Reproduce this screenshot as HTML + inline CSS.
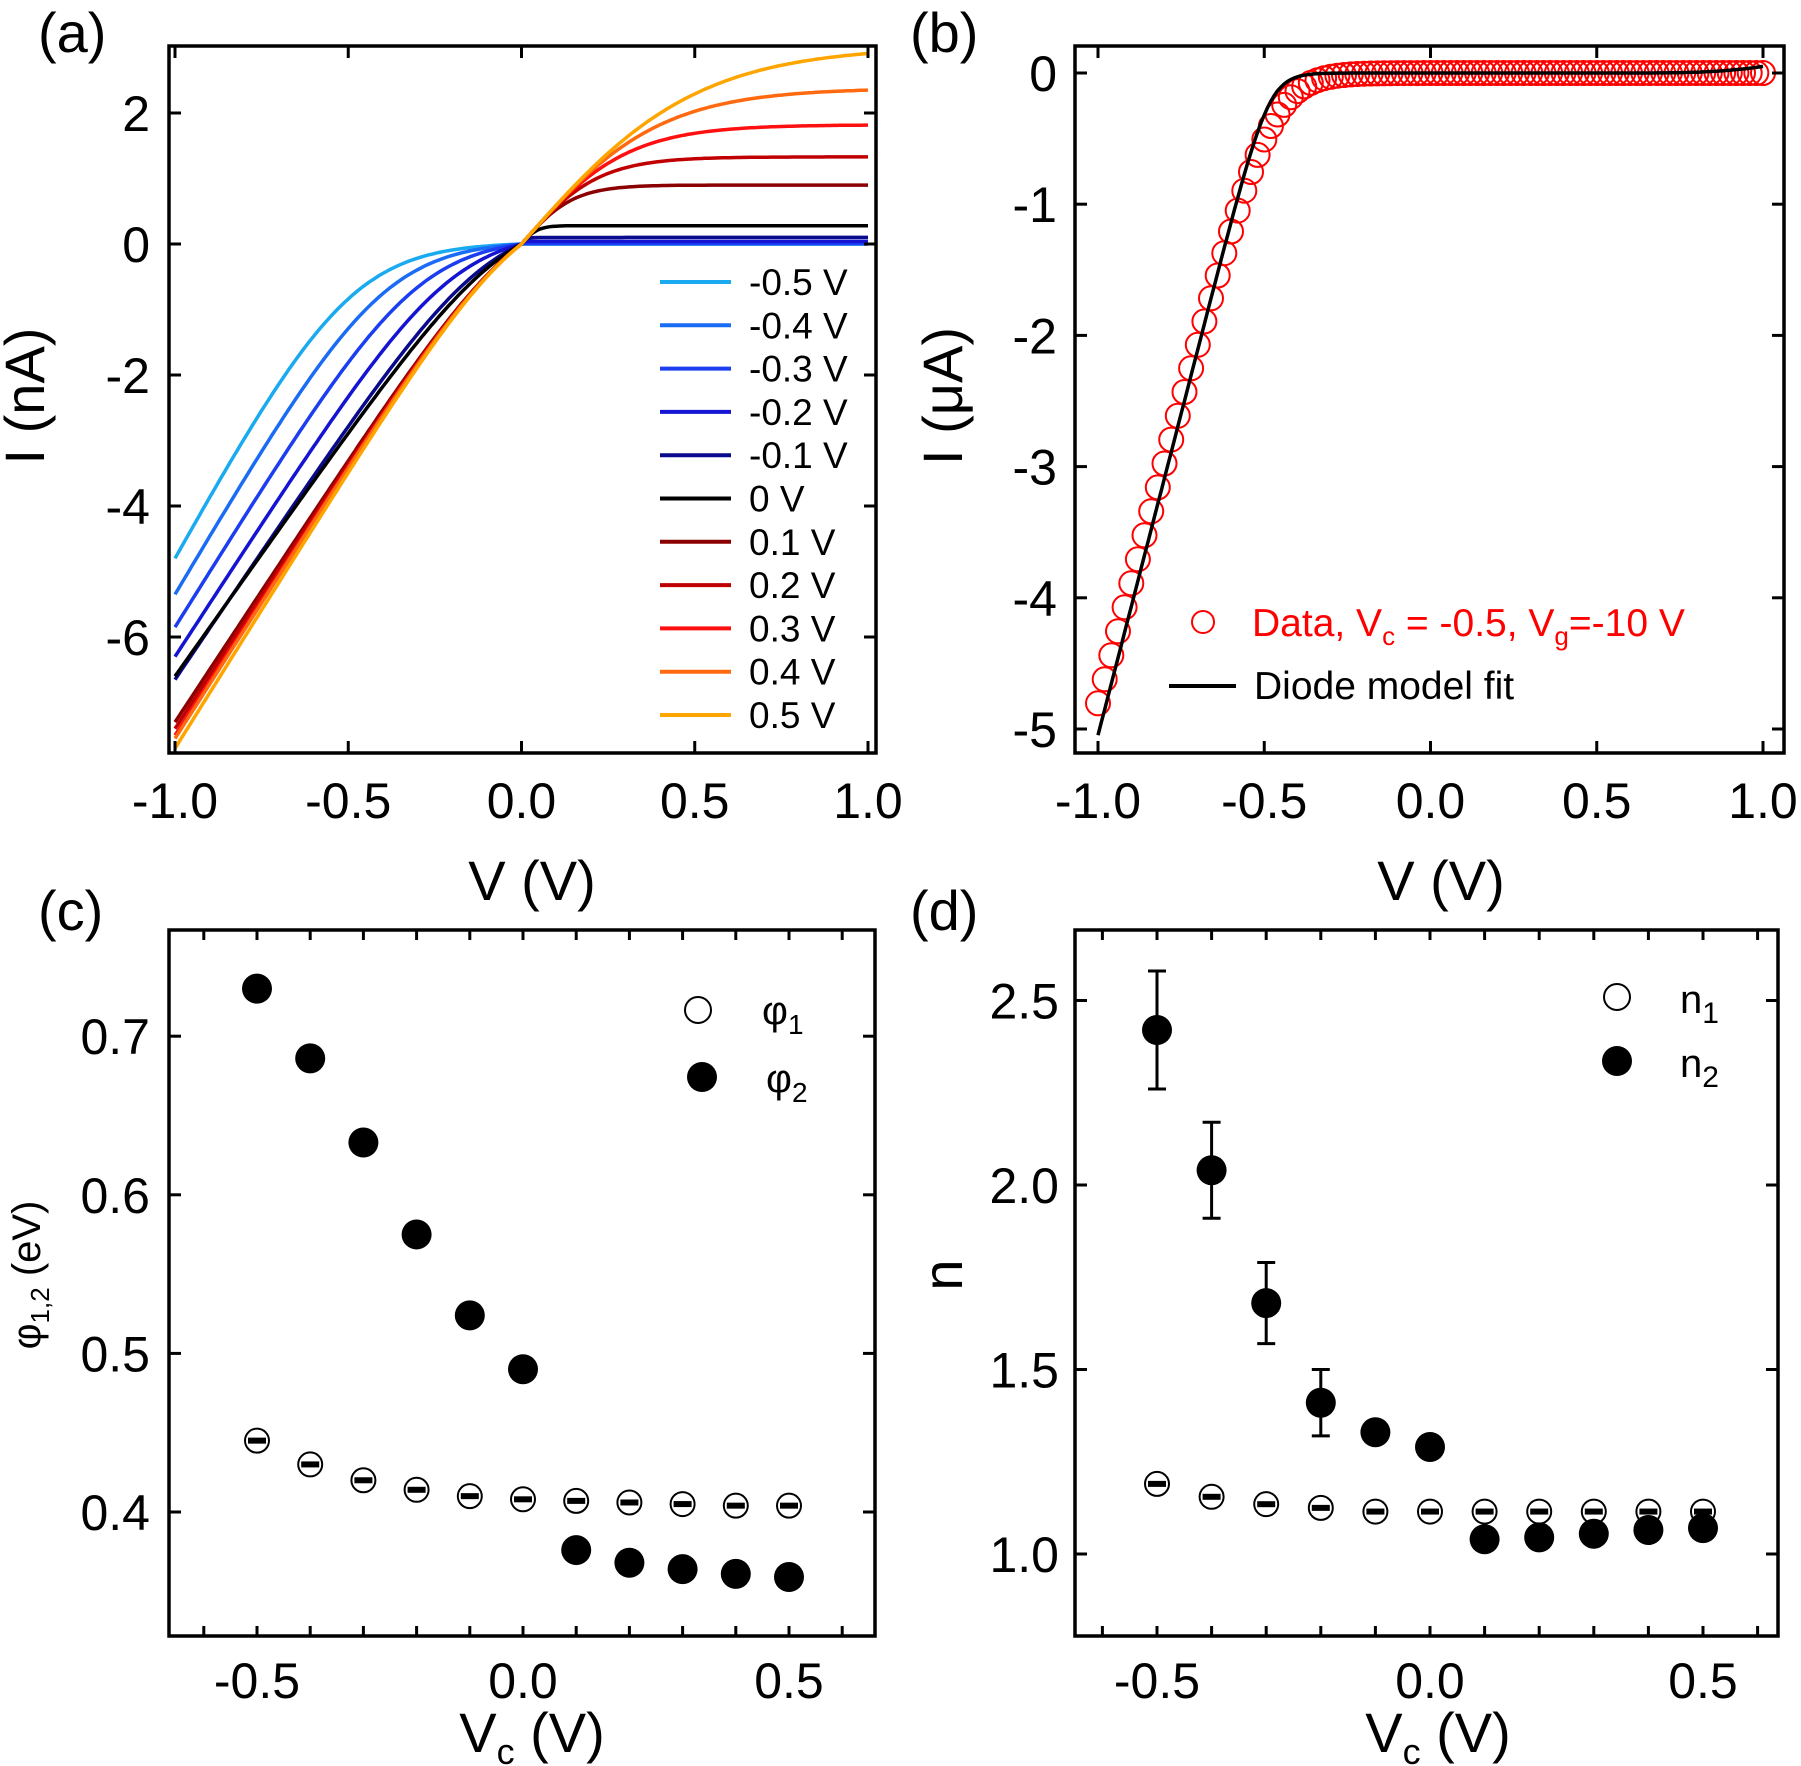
<!DOCTYPE html>
<html><head><meta charset="utf-8"><style>
html,body{margin:0;padding:0;background:#fff}
svg{display:block;font-family:"Liberation Sans",Arial,sans-serif}
</style></head><body>
<svg id="s" width="1801" height="1766" viewBox="0 0 1801 1766" xmlns="http://www.w3.org/2000/svg"></svg>
<script>
const S=document.getElementById('s');let h='';
function fr(l,t,r,b){h+=`<rect x="${l}" y="${t}" width="${r-l}" height="${b-t}" fill="none" stroke="#000" stroke-width="3.5"/>`;}
function tx(x,y,s,fs,anchor,extra){h+=`<text x="${x}" y="${y}" font-size="${fs}" text-anchor="${anchor||'start'}" ${extra||''}>${s}</text>`;}
function tick(x1,y1,x2,y2){h+=`<line x1="${x1}" y1="${y1}" x2="${x2}" y2="${y2}" stroke="#000" stroke-width="3"/>`;}
function sp(x){return x>30?x:Math.log(1+Math.exp(x));}
// ---------- Panel a ----------
{const L=169,R=876,T=46,B=753;const X=v=>175+(v+1)*346.5,Y=i=>244-i*65.5;
 const cs=[[-0.5,'#1aaaf0',-4.8,-0.5,0],[-0.4,'#1a6cf5',-5.35,-0.4,0],[-0.3,'#1a3ef0',-5.85,-0.3,0.01],[-0.2,'#1414d2',-6.3,-0.2,0.04],[-0.1,'#0a0a8c',-6.65,-0.1,0.1],[0,'#000',-6.6,-0.05,0.28],[0.1,'#8b0000',-7.3,0.0,0.9],[0.2,'#c00000',-7.4,0.0,1.33],[0.3,'#ff1010',-7.5,0.0,1.82],[0.4,'#ff6a10',-7.55,0.0,2.38],[0.5,'#ffa500',-7.7,0.0,3.02]];
 cs.forEach(c=>{const [vc,col,e,vk,is]=c;const w=0.13;let d='';
  const f=V=>w*sp((vk-V)/w)-w*sp(vk/w);const A=e/f(-1);
  for(let k=0;k<=200;k++){const V=-1+k*0.01;let I;
   if(V<=0)I=A*f(V);else{I=is>0?is*Math.tanh(V*6/is):0;}
   d+=(k?'L':'M')+X(V).toFixed(1)+' '+Y(I).toFixed(1);}
  h+=`<path d="${d}" fill="none" stroke="${col}" stroke-width="3.5"/>`;});
 fr(L,T,R,B);
 [-1,-0.5,0,0.5,1].forEach(v=>{tick(X(v),B,X(v),B-12);tick(X(v),T,X(v),T+12);tx(X(v),818,v.toFixed(1),50,'middle');});
 [2,0,-2,-4,-6].forEach(i=>{tick(L,Y(i),L+12,Y(i));tick(R,Y(i),R-12,Y(i));tx(150,Y(i)+18,i,50,'end');});
 tx(532,900,'V (V)',56,'middle');tx(0,0,'I (nA)',56,'middle','transform="translate(44,396) rotate(-90)"');
 tx(38,52,'(a)',56);
 const labs=['-0.5 V','-0.4 V','-0.3 V','-0.2 V','-0.1 V','0 V','0.1 V','0.2 V','0.3 V','0.4 V','0.5 V'];
 labs.forEach((s,k)=>{const y=282+k*43.3;h+=`<line x1="660" y1="${y}" x2="731" y2="${y}" stroke="${cs[k][1]}" stroke-width="4"/>`;tx(749,y+13,s,37);});
}
// ---------- Panel b ----------
{const L=1075,R=1784,T=46,B=753;const X=v=>1098+(v+1)*332.5,Y=i=>73-i*131.2;
 let d='';for(let k=0;k<=200;k++){const V=-1+k*0.01;const w=0.035;let I=-9.8*w*sp((-0.485-V)/w);I+=0.05*Math.pow(Math.max(0,V-0.6)/0.4,3);d+=(k?'L':'M')+X(V).toFixed(1)+' '+Y(I).toFixed(1);}
 for(let k=0;k<=100;k++){const V=-1+k*0.02;const w=0.06;const I=-9.15*w*sp((-0.475-V)/w);h+=`<circle cx="${X(V).toFixed(1)}" cy="${Y(I).toFixed(1)}" r="12" fill="none" stroke="#f00" stroke-width="2"/>`;}
 h+=`<path d="${d}" fill="none" stroke="#000" stroke-width="3.5"/>`;
 fr(L,T,R,B);
 [-1,-0.5,0,0.5,1].forEach(v=>{tick(X(v),B,X(v),B-12);tick(X(v),T,X(v),T+12);tx(X(v),818,v.toFixed(1),50,'middle');});
 [0,-1,-2,-3,-4,-5].forEach(i=>{tick(L,Y(i),L+12,Y(i));tick(R,Y(i),R-12,Y(i));tx(1057,Y(i)+18,i,50,'end');});
 tx(1441,900,'V (V)',56,'middle');tx(0,0,'I (μA)',56,'middle','transform="translate(962,396) rotate(-90)"');
 tx(910,52,'(b)',56);
 h+=`<circle cx="1203" cy="622" r="11" fill="none" stroke="#f00" stroke-width="2"/>`;
 tx(1252,636,'Data, V<tspan font-size="26" dy="9">c</tspan><tspan dy="-9"> = -0.5, V</tspan><tspan font-size="26" dy="9">g</tspan><tspan dy="-9">=-10 V</tspan>',39,'start','fill="#f00"');
 h+=`<line x1="1169" y1="686" x2="1236" y2="686" stroke="#000" stroke-width="4"/>`;tx(1254,699,'Diode model fit',39);
}
function open(x,y){h+=`<circle cx="${x}" cy="${y}" r="12" fill="#fff" stroke="#000" stroke-width="2"/><rect x="${x-9}" y="${y-3}" width="18" height="6" fill="#000"/>`;}
function fill(x,y){h+=`<circle cx="${x}" cy="${y}" r="15" fill="#000"/>`;}
// ---------- Panel c ----------
{const L=169,R=875,T=930,B=1636;const X=v=>523+v*532,Y=p=>1512-(p-0.4)*1586;
 fr(L,T,R,B);
 for(let k=-6;k<=6;k++){const x=X(k/10);tick(x,B,x,B-10);tick(x,T,x,T+10);}
 [-0.5,0,0.5].forEach(v=>tx(X(v),1698,v.toFixed(1),50,'middle'));
 [0.7,0.6,0.5,0.4].forEach(p=>{tick(L,Y(p),L+12,Y(p));tick(R,Y(p),R-12,Y(p));tx(150,Y(p)+18,p.toFixed(1),50,'end');});
 const p2=[0.730,0.686,0.633,0.575,0.524,0.490,0.376,0.368,0.364,0.361,0.359],p1=[0.445,0.430,0.420,0.414,0.410,0.408,0.407,0.406,0.405,0.404,0.404];
 p1.forEach((p,k)=>open(X(-0.5+k*0.1),Y(p)));p2.forEach((p,k)=>fill(X(-0.5+k*0.1),Y(p)));
 h+=`<circle cx="698" cy="1010" r="13" fill="#fff" stroke="#000" stroke-width="2"/>`;fill(702,1077);
 tx(762,1024,'φ<tspan font-size="28" dy="10">1</tspan>',40);tx(766,1092,'φ<tspan font-size="28" dy="10">2</tspan>',40);
 tx(532,1752,'V<tspan font-size="36" dy="12">c</tspan><tspan dy="-12"> (V)</tspan>',56,'middle');
 tx(0,0,'φ<tspan font-size="26" dy="9">1,2</tspan><tspan dy="-9"> (eV)</tspan>',40,'middle','transform="translate(40,1275) rotate(-90)"');
 tx(38,930,'(c)',56);
}
// ---------- Panel d ----------
{const L=1075,R=1778,T=930,B=1636;const X=v=>1430+v*546,Y=n=>1554-(n-1)*369;
 fr(L,T,R,B);
 for(let k=-6;k<=6;k++){const x=X(k/10);tick(x,B,x,B-10);tick(x,T,x,T+10);}
 [-0.5,0,0.5].forEach(v=>tx(X(v),1698,v.toFixed(1),50,'middle'));
 [2.5,2.0,1.5,1.0].forEach(n=>{tick(L,Y(n),L+12,Y(n));tick(R,Y(n),R-12,Y(n));tx(1059,Y(n)+18,n.toFixed(1),50,'end');});
 const n2=[2.42,2.04,1.68,1.41,1.33,1.29,1.04,1.045,1.055,1.065,1.07],e2=[0.16,0.13,0.11,0.09,0.02,0,0,0,0,0,0],n1=[1.19,1.155,1.135,1.125,1.115,1.115,1.115,1.115,1.115,1.115,1.115];
 n1.forEach((n,k)=>open(X(-0.5+k*0.1),Y(n)));
 n2.forEach((n,k)=>{const x=X(-0.5+k*0.1);if(e2[k]>0.03){const a=Y(n+e2[k]),b=Y(n-e2[k]);h+=`<line x1="${x}" y1="${a}" x2="${x}" y2="${b}" stroke="#000" stroke-width="3"/><line x1="${x-9}" y1="${a}" x2="${x+9}" y2="${a}" stroke="#000" stroke-width="3"/><line x1="${x-9}" y1="${b}" x2="${x+9}" y2="${b}" stroke="#000" stroke-width="3"/>`;}fill(x,Y(n));});
 h+=`<circle cx="1617" cy="997" r="13" fill="#fff" stroke="#000" stroke-width="2"/>`;fill(1617,1061);
 tx(1680,1013,'n<tspan font-size="30" dy="10">1</tspan>',40);tx(1680,1077,'n<tspan font-size="30" dy="10">2</tspan>',40);
 tx(1438,1752,'V<tspan font-size="36" dy="12">c</tspan><tspan dy="-12"> (V)</tspan>',56,'middle');
 tx(0,0,'n',56,'middle','transform="translate(962,1275) rotate(-90)"');
 tx(910,930,'(d)',56);
}
S.innerHTML=h;
</script>
</body></html>
